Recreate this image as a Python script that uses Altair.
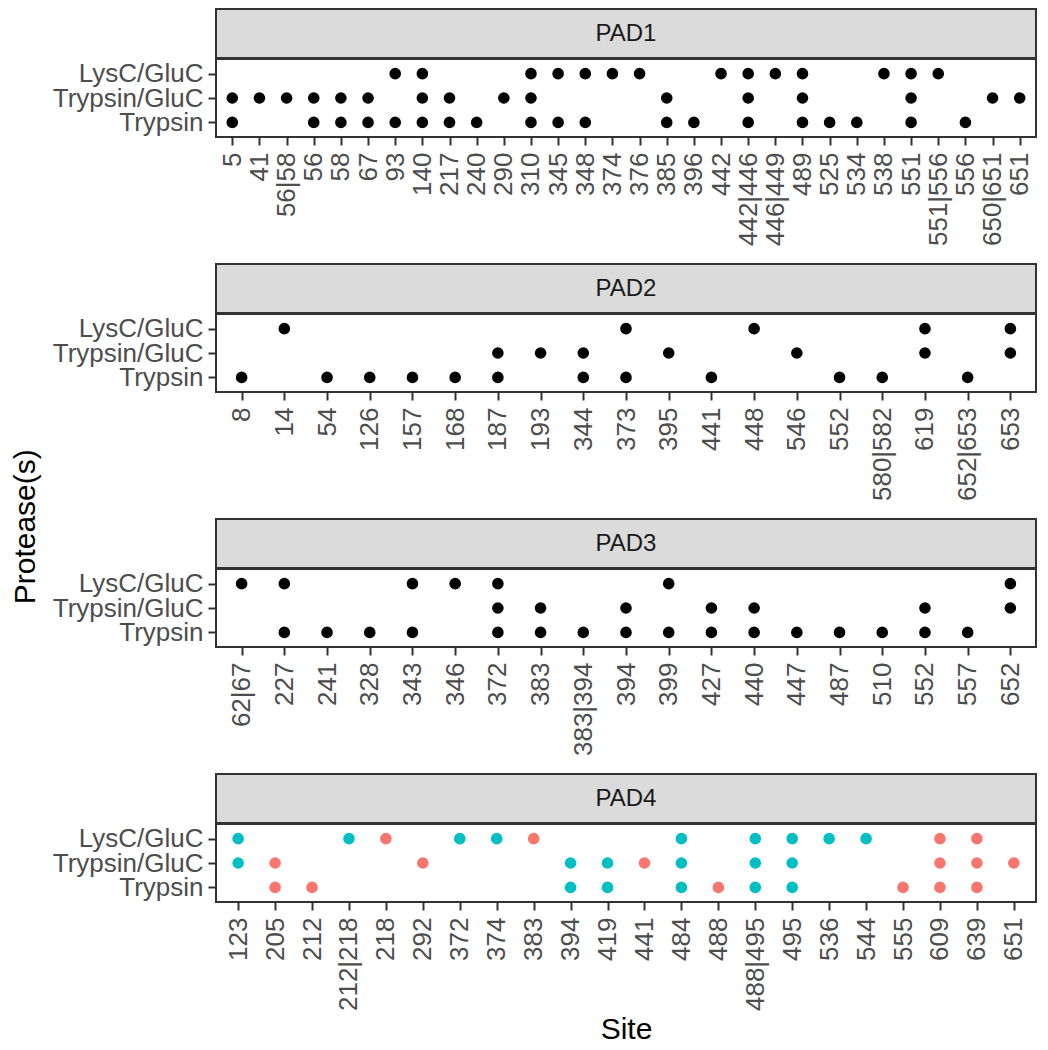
import altair as alt
import pandas as pd

FONT = "Liberation Sans"
PROTEASES = ["LysC/GluC", "Trypsin/GluC", "Trypsin"]
GROUP_NAMES = ["group 1", "group 2"]
GROUP_COLORS = ["#F8766D", "#00BFC4"]

# ---------------- PAD1 ----------------
pad1_sites = ["5", "41", "56|58", "56", "58", "67", "93", "140", "217", "240", "290",
              "310", "345", "348", "374", "376", "385", "396", "442", "442|446",
              "446|449", "489", "525", "534", "538", "551", "551|556", "556",
              "650|651", "651"]
pad1_lysc_gluc = ["93", "140", "310", "345", "348", "374", "376", "442", "442|446",
                  "446|449", "489", "538", "551", "551|556"]
pad1_trypsin_gluc = ["5", "41", "56|58", "56", "58", "67", "140", "217", "290", "310",
                     "385", "442|446", "489", "551", "650|651", "651"]
pad1_trypsin = ["5", "56", "58", "67", "93", "140", "217", "240", "310", "345", "348",
                "385", "396", "442|446", "489", "525", "534", "551", "556"]

# ---------------- PAD2 ----------------
pad2_sites = ["8", "14", "54", "126", "157", "168", "187", "193", "344", "373", "395",
              "441", "448", "546", "552", "580|582", "619", "652|653", "653"]
pad2_lysc_gluc = ["14", "373", "448", "619", "653"]
pad2_trypsin_gluc = ["187", "193", "344", "395", "546", "619", "653"]
pad2_trypsin = ["8", "54", "126", "157", "168", "187", "344", "373", "441", "552",
                "580|582", "652|653"]

# ---------------- PAD3 ----------------
pad3_sites = ["62|67", "227", "241", "328", "343", "346", "372", "383", "383|394", "394",
              "399", "427", "440", "447", "487", "510", "552", "557", "652"]
pad3_lysc_gluc = ["62|67", "227", "343", "346", "372", "399", "652"]
pad3_trypsin_gluc = ["372", "383", "394", "427", "440", "552", "652"]
pad3_trypsin = ["227", "241", "328", "343", "372", "383", "383|394", "394", "399", "427",
                "440", "447", "487", "510", "552", "557"]

# ---------------- PAD4 ----------------
pad4_sites = ["123", "205", "212", "212|218", "218", "292", "372", "374", "383", "394",
              "419", "441", "484", "488", "488|495", "495", "536", "544", "555", "609",
              "639", "651"]
pad4_groups = ["group 2", "group 1", "group 1", "group 2", "group 1", "group 1",
               "group 2", "group 2", "group 1", "group 2", "group 2", "group 1",
               "group 2", "group 1", "group 2", "group 2", "group 2", "group 2",
               "group 1", "group 1", "group 1", "group 1"]
pad4_lysc_gluc = ["123", "212|218", "218", "372", "374", "383", "484", "488|495", "495",
                  "536", "544", "609", "639"]
pad4_trypsin_gluc = ["123", "205", "292", "394", "419", "441", "484", "488|495", "495",
                     "609", "639", "651"]
pad4_trypsin = ["205", "212", "394", "419", "484", "488", "488|495", "495", "555", "609",
                "639"]

W = 820
STRIP_H = 49
PLOT_H = 78


def make_df(panel, sites, lysc, tg, t, groups=None):
    rows = []
    for prot, lst in zip(PROTEASES, [lysc, tg, t]):
        for s in lst:
            g = groups[sites.index(s)] if groups else "none"
            rows.append({"panel": panel, "site": s, "protease": prot, "group": g})
    return pd.DataFrame(rows)


def make_panel(name, sites, lysc, tg, t, groups=None, last=False):
    strip = alt.Chart(pd.DataFrame({"panel": [name]})).mark_text(
        font=FONT, fontSize=24, color="#1A1A1A"
    ).encode(text="panel:N").properties(
        width=W, height=STRIP_H,
        view=alt.ViewBackground(fill="#DBDBDB", stroke="#333333", strokeWidth=2),
    )
    df = make_df(name, sites, lysc, tg, t, groups)
    if groups:
        color = alt.Color("group:N", scale=alt.Scale(domain=GROUP_NAMES, range=GROUP_COLORS),
                          legend=None)
    else:
        color = alt.value("black")
    xaxis = alt.Axis(title="Site" if last else None, labelAngle=270, labelOverlap=False,
                     labelPadding=7, titlePadding=4)
    yaxis = alt.Axis(title=None, labelOverlap=False, labelPadding=5)
    dots = alt.Chart(df).mark_circle(size=135, opacity=1).encode(
        x=alt.X("site:N", scale=alt.Scale(type="point", domain=sites, padding=0.6), axis=xaxis),
        y=alt.Y("protease:N", scale=alt.Scale(type="point", domain=PROTEASES, padding=0.6),
                axis=yaxis),
        color=color,
    ).properties(width=W, height=PLOT_H)
    return alt.vconcat(strip, dots, spacing=-2)


panels = [
    make_panel("PAD1", pad1_sites, pad1_lysc_gluc, pad1_trypsin_gluc, pad1_trypsin),
    make_panel("PAD2", pad2_sites, pad2_lysc_gluc, pad2_trypsin_gluc, pad2_trypsin),
    make_panel("PAD3", pad3_sites, pad3_lysc_gluc, pad3_trypsin_gluc, pad3_trypsin),
    make_panel("PAD4", pad4_sites, pad4_lysc_gluc, pad4_trypsin_gluc, pad4_trypsin,
               groups=pad4_groups, last=True),
]

chart = alt.vconcat(*panels, spacing=16).properties(
    title=alt.TitleParams(text="Protease(s)", orient="left", anchor="middle", fontSize=30,
                          fontWeight="normal", font=FONT, color="black", offset=10),
    padding={"left": 3, "top": 0, "right": 2, "bottom": 0},
).configure_axis(
    labelFont=FONT, titleFont=FONT, grid=False, domain=False,
    tickColor="#333333", tickWidth=2, tickSize=8,
    labelColor="#4D4D4D", labelFontSize=26,
    titleFontSize=30, titleColor="black", titleFontWeight="normal",
).configure_view(stroke="#333333", strokeWidth=2)

chart.save("out.html", embed_options={"renderer": "svg", "actions": False})
